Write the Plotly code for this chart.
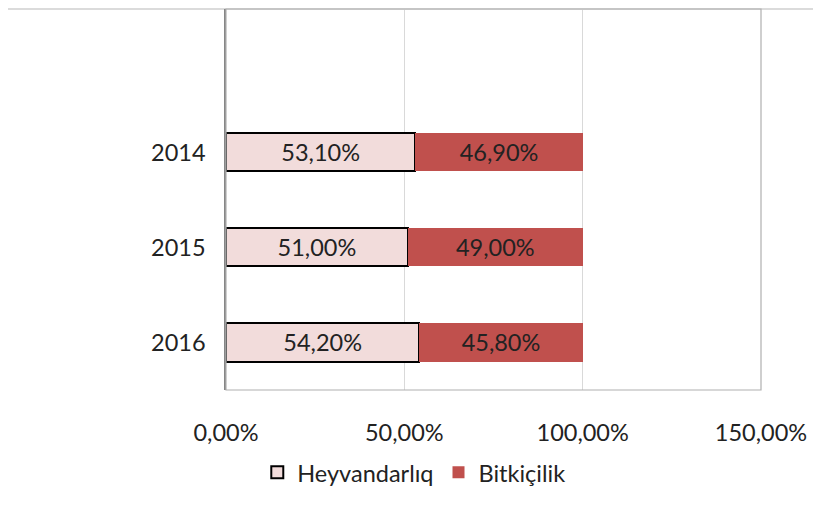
import plotly.graph_objects as go

years = ["2016", "2015", "2014"]
heyvandarliq = [54.2, 51.0, 53.1]
bitkicilik = [45.8, 49.0, 46.9]
x_ticks = [0, 50, 100, 150]
x_tick_labels = ["0,00%", "50,00%", "100,00%", "150,00%"]

def fmt(v):
    return f"{v:.2f}".replace(".", ",") + "%"

font_family = "Lato, 'Open Sans', sans-serif"
fs = 23.5

fig = go.Figure()
fig.add_trace(go.Bar(
    y=years, x=heyvandarliq, orientation="h", name="Heyvandarlıq",
    marker=dict(color="#F2DCDB", line=dict(color="#000000", width=2)),
    text=[fmt(v) for v in heyvandarliq], textposition="inside",
    insidetextanchor="middle", textangle=0,
    textfont=dict(color="#222222", size=fs, family=font_family),
    width=0.4,
))
fig.add_trace(go.Bar(
    y=years, x=bitkicilik, orientation="h", name="Bitkiçilik",
    marker=dict(color="#C0504D", line=dict(width=0)),
    text=[fmt(v) for v in bitkicilik], textposition="inside",
    insidetextanchor="middle", textangle=0,
    textfont=dict(color="#222222", size=fs, family=font_family),
    width=0.4,
))

fig.update_layout(
    barmode="stack",
    width=821, height=508,
    margin=dict(l=218, r=68, t=1, b=126, autoexpand=False),
    paper_bgcolor="white", plot_bgcolor="white",
    font=dict(family=font_family, size=fs, color="#222222"),
    showlegend=True,
    legend=dict(orientation="h", x=0.351, xanchor="center", y=-0.159, yanchor="top",
                font=dict(size=fs, family=font_family, color="#222222"),
                traceorder="normal", itemwidth=30),
    xaxis=dict(range=[0, 150], tickvals=x_ticks, ticktext=x_tick_labels,
               showgrid=True, gridcolor="#D9D9D9", gridwidth=1,
               zeroline=False, showline=False, ticks="", ticklen=0,
               ticklabelstandoff=26, tickfont=dict(size=fs), automargin=False),
    yaxis=dict(type="category", categoryorder="array", categoryarray=years,
               range=[-0.5, 3.51], showgrid=False, zeroline=False,
               showline=True, linecolor="#868686", linewidth=1.5,
               ticks="", ticklabelstandoff=14, tickfont=dict(size=fs),
               automargin=False),
    shapes=[
        dict(type="rect", xref="paper", yref="paper", x0=0, x1=1, y0=0, y1=1,
             line=dict(color="#B0B0B0", width=1.2), layer="above"),
        dict(type="rect", xref="paper", yref="paper", x0=-0.5, x1=1.3, y0=-0.5, y1=1,
             line=dict(color="#D0D0D0", width=1.5), layer="below"),
    ],
)

fig.write_html("out.html")
